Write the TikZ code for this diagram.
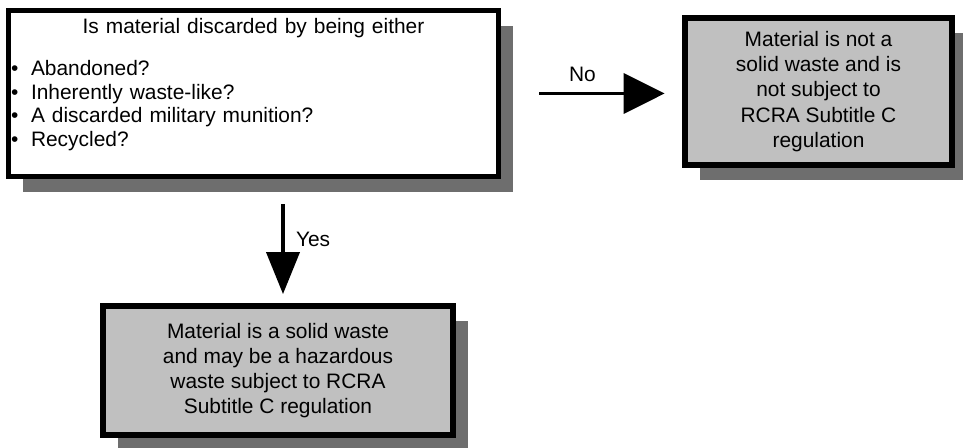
\documentclass[tikz,border=0pt]{standalone}
\usepackage{fontspec}
\setmainfont{Liberation Sans}
\usepackage{tikz}
\usetikzlibrary{arrows.meta,positioning,shadows}
\definecolor{boxgray}{RGB}{192,192,192}
\definecolor{shadowgray}{RGB}{110,110,110}
\newcommand{\qitem}{\textbullet\hspace{0.6em}}

\begin{document}
\begin{tikzpicture}[
    query/.style={draw=black,fill=white,line width=2.8pt,text width=9.694cm,inner xsep=1.5pt,inner ysep=4.2pt,font=\fontsize{11.9}{13.3}\selectfont,drop shadow={shadow xshift=0.29cm,shadow yshift=-0.31cm,fill=shadowgray,opacity=1}},
    result/.style={draw=black,fill=boxgray,line width=3.6pt,inner sep=0pt,align=center,font=\fontsize{11.9}{14.4}\selectfont,drop shadow={shadow xshift=0.3cm,shadow yshift=-0.3cm,fill=shadowgray,opacity=1}},
    flow/.style={line width=2.2pt},
    lbl/.style={font=\fontsize{11.9}{13}\selectfont}]
   \useasboundingbox (0,0) rectangle (19.26,8.96);
   \node[query] (ask) at (5.07,7.09)
      {{\centering Is material discarded by being either\par}\vspace{11pt}
       \qitem Abandoned?\\
       \qitem Inherently waste-like?\\
       \qitem A discarded military munition?\\
       \qitem Recycled?\par\vspace{-0.3pt}\null};
   \node[result,minimum width=5.33cm,minimum height=2.93cm] (notsw) at (16.37,7.13)
      {Material is not a\\solid waste and is\\not subject to\\RCRA Subtitle C\\regulation};
   \node[result,minimum width=6.99cm,minimum height=2.57cm,font=\fontsize{11.9}{14.2}\selectfont] (issw) at (5.56,1.55)
      {Material is a solid waste\\and may be a hazardous\\waste subject to RCRA\\Subtitle C regulation};
   \draw[flow,-{Triangle[length=0.82cm,width=0.8cm]},shorten <=0.77cm,shorten >=0.35cm] (ask.east) -- (ask.east -| notsw.west)
      node[lbl,pos=0.45,above=2pt] {No};
   \draw[flow,-{Triangle[length=0.84cm,width=0.66cm]},shorten <=0.51cm,shorten >=0.18cm] ([xshift=0.1cm]ask.south -| issw.north) -- ([xshift=0.1cm]issw.north)
      node[lbl,pos=0.49,right=3pt] {Yes};
\end{tikzpicture}
\end{document}
